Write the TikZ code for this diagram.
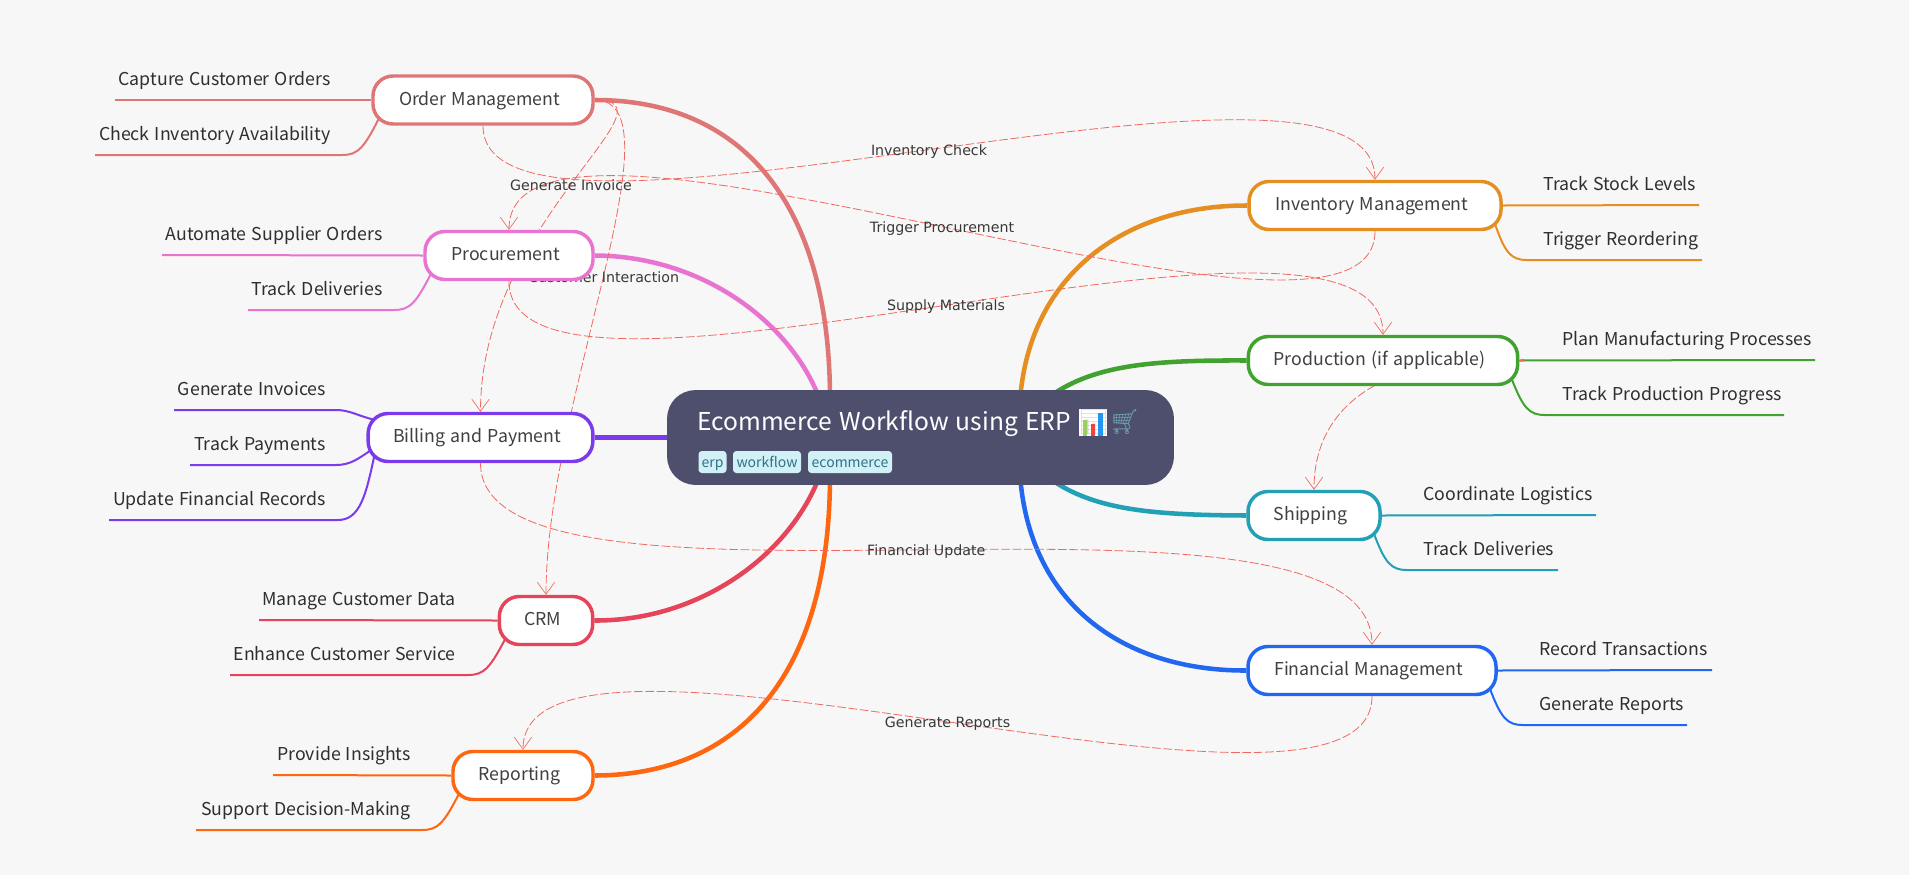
\documentclass[tikz,border=0pt]{standalone}
\usepackage{fontspec}
\usepackage{tikz}
\usetikzlibrary{arrows.meta}
\setmainfont[WordSpace=1.3]{Noto Sans CJK SC}
\newfontfamily\labelfont{DejaVu Sans}
\newfontfamily\emojifont{Noto Emoji}
\definecolor{paper}{HTML}{F7F7F7}
\definecolor{rootcol}{HTML}{4E4F6C}
\definecolor{tagfill}{HTML}{D2F1F6}
\definecolor{tagtext}{HTML}{2F7186}
\definecolor{linkcol}{HTML}{F0685E}
\definecolor{ordcol}{HTML}{DF7676}
\definecolor{procol}{HTML}{E973D1}
\definecolor{bilcol}{HTML}{7C3AED}
\definecolor{crmcol}{HTML}{E5445A}
\definecolor{repcol}{HTML}{FF6610}
\definecolor{invcol}{HTML}{E58F22}
\definecolor{prdcol}{HTML}{41A230}
\definecolor{shpcol}{HTML}{22A0B6}
\definecolor{fincol}{HTML}{2167F0}
\definecolor{bargreen}{HTML}{9CCC65}
\definecolor{barred}{HTML}{F44336}
\definecolor{barblue}{HTML}{2196F3}
\pgfdeclarelayer{sheet}
\pgfdeclarelayer{edges}
\pgfsetlayers{sheet,edges,main}
\tikzset{
	topic/.style={draw=#1,line width=2.6pt,fill=white,rounded corners=15pt,minimum height=36pt,inner sep=0pt,text height=9pt,text depth=1.5pt,text=black!75,font=\fontsize{13.3}{16}\selectfont,execute at end node=\hspace{5pt}},
	leaf/.style={inner sep=0pt,text=black!82,font=\fontsize{13.3}{16}\selectfont},
	tagbox/.style={fill=tagfill,rounded corners=2.5pt,text=tagtext,inner sep=0pt,minimum height=16.5pt,text height=9pt,text depth=.8pt,font=\fontsize{10.5}{12}\selectfont},
	branch/.style={draw=#1,line width=3.4pt},
	twig/.style={draw=#1,line width=1.5pt},
	link/.style={draw=linkcol,line width=.6pt,dash pattern=on 6.5pt off 2pt,-{Straight Barb[length=9pt,width=13pt,line width=.5pt]}},
	linklabel/.style={inner sep=0pt,yshift=-1pt,text=black!78,font=\labelfont\fontsize{10.65}{12}\selectfont}
}
\begin{document}
\begin{tikzpicture}[x=.75pt,y=-.75pt]
\begin{pgfonlayer}{sheet}
\fill [paper] (0,0) rectangle (1909,875);
\end{pgfonlayer}
\useasboundingbox (0,0) rectangle (1909,875);
% root
\node [fill=rootcol,rounded corners=21pt,minimum width=380pt,minimum height=71pt,inner sep=0pt] (root) at (920.5,437.5) {};
\fill [white] (1079,409) rectangle (1107,436);
\node [anchor=west,inner sep=0pt,text=white,font=\fontsize{18.45}{24}\selectfont] (title) at (697,423) {Ecommerce Workflow using ERP {\emojifont\textcolor{black!18}{📊}\textcolor{tagtext!70}{🛒}}};
\fill [bargreen] (1083,420) rectangle (1087,436);
\fill [barred] (1091,424) rectangle (1095,436);
\fill [barblue] (1098,413) rectangle (1103,436);
\node [tagbox,minimum width=21pt] (erp) at (712.5,462) {erp};
\node [tagbox,minimum width=51pt] (workflow) at (767,462) {workflow};
\node [tagbox,minimum width=63pt] (ecommerce) at (850,462) {ecommerce};
% topics
\node [topic=ordcol,minimum width=165pt] (ord) at (483,100) {Order Management};
\node [topic=procol,minimum width=126pt] (pro) at (509,255.5) {Procurement};
\node [topic=bilcol,minimum width=168.5pt] (bil) at (480.5,437.5) {Billing and Payment};
\node [topic=crmcol,minimum width=70pt] (crm) at (546,620.5) {CRM};
\node [topic=repcol,minimum width=105pt] (rep) at (523,775.5) {Reporting};
\node [topic=invcol,minimum width=189pt] (inv) at (1375,205.5) {Inventory Management};
\node [topic=prdcol,minimum width=202pt] (prd) at (1383,360.5) {Production (if applicable)};
\node [topic=shpcol,minimum width=99pt] (shp) at (1314,515.5) {Shipping};
\node [topic=fincol,minimum width=186pt] (fin) at (1372,670.5) {Financial Management};
% leaves
\node [leaf,anchor=base east] (cap) at (331,85) {Capture Customer Orders};
\node [leaf,anchor=base east] (chk) at (331,140) {Check Inventory Availability};
\node [leaf,anchor=base east] (aut) at (383,240) {Automate Supplier Orders};
\node [leaf,anchor=base east] (del) at (383,295) {Track Deliveries};
\node [leaf,anchor=base east] (gin) at (326,395) {Generate Invoices};
\node [leaf,anchor=base east] (pay) at (326,450) {Track Payments};
\node [leaf,anchor=base east] (upd) at (326,505) {Update Financial Records};
\node [leaf,anchor=base east] (man) at (456,605) {Manage Customer Data};
\node [leaf,anchor=base east] (enh) at (456,660) {Enhance Customer Service};
\node [leaf,anchor=base east] (ins) at (411,760) {Provide Insights};
\node [leaf,anchor=base east] (sup) at (411,815) {Support Decision-Making};
\node [leaf,anchor=base west] (stk) at (1543,190) {Track Stock Levels};
\node [leaf,anchor=base west] (reo) at (1543,245) {Trigger Reordering};
\node [leaf,anchor=base west] (pln) at (1562,345) {Plan Manufacturing Processes};
\node [leaf,anchor=base west] (trk) at (1562,400) {Track Production Progress};
\node [leaf,anchor=base west] (log) at (1423,500) {Coordinate Logistics};
\node [leaf,anchor=base west] (shd) at (1423,555) {Track Deliveries};
\node [leaf,anchor=base west] (rec) at (1539,655) {Record Transactions};
\node [leaf,anchor=base west] (grp) at (1539,710) {Generate Reports};
% line ends
\coordinate (capEnd) at (115,100);
\coordinate (chkEnd) at (95,155);
\coordinate (autEnd) at (162,255);
\coordinate (delEnd) at (248,310);
\coordinate (ginEnd) at (174,410);
\coordinate (payEnd) at (190,465);
\coordinate (updEnd) at (109,520);
\coordinate (manEnd) at (259,620);
\coordinate (enhEnd) at (230,675);
\coordinate (insEnd) at (273,775);
\coordinate (supEnd) at (196,830);
\coordinate (stkEnd) at (1699,205);
\coordinate (reoEnd) at (1702,260);
\coordinate (plnEnd) at (1815,360);
\coordinate (trkEnd) at (1784,415);
\coordinate (logEnd) at (1596,515);
\coordinate (shdEnd) at (1558,570);
\coordinate (recEnd) at (1712,670);
\coordinate (grpEnd) at (1687,725);
\coordinate (rootOrd) at (830,400);
\coordinate (rootPro) at (820,400);
\coordinate (rootCrm) at (820,475);
\coordinate (rootRep) at (830,475);
\coordinate (rootInv) at (1020,400);
\coordinate (rootPrd) at (1045,400);
\coordinate (rootShp) at (1045,475);
\coordinate (rootFin) at (1020,475);
\begin{pgfonlayer}{edges}
% branches
\draw [branch=ordcol] (ord.east) .. controls (740,100) and (830,200) .. (rootOrd);
\draw [branch=procol] (pro.east) .. controls (700,256) and (790,320) .. (rootPro);
\draw [branch=bilcol] (bil.east) -- (root.west);
\draw [branch=crmcol] (crm.east) .. controls (700,621) and (790,555) .. (rootCrm);
\draw [branch=repcol] (rep.east) .. controls (740,775) and (830,675) .. (rootRep);
\draw [branch=invcol] (inv.west) .. controls (1130,205) and (1030,270) .. (rootInv);
\draw [branch=prdcol] (prd.west) .. controls (1150,360) and (1090,365) .. (rootPrd);
\draw [branch=shpcol] (shp.west) .. controls (1150,515) and (1090,510) .. (rootShp);
\draw [branch=fincol] (fin.west) .. controls (1130,671) and (1030,610) .. (rootFin);
% twigs
\draw [twig=ordcol] (ord.west) -- (capEnd);
\draw [twig=ordcol] ([shift={(8,-8)}]ord.south west) .. controls (364,148) and (358,155) .. (342,155) -- (chkEnd);
\draw [twig=procol] (pro.west) -- (autEnd);
\draw [twig=procol] ([shift={(8,-8)}]pro.south west) .. controls (416,303) and (410,310) .. (394,310) -- (delEnd);
\draw [twig=bilcol] ([shift={(8,8)}]bil.north west) .. controls (358,416) and (350,410) .. (336,410) -- (ginEnd);
\draw [twig=bilcol] (bil.west) ++(4,13) .. controls (358,459) and (350,465) .. (336,465) -- (payEnd);
\draw [twig=bilcol] ([shift={(8,-8)}]bil.south west) .. controls (366,495) and (360,520) .. (338,520) -- (updEnd);
\draw [twig=crmcol] (crm.west) -- (manEnd);
\draw [twig=crmcol] ([shift={(8,-8)}]crm.south west) .. controls (490,668) and (484,675) .. (468,675) -- (enhEnd);
\draw [twig=repcol] (rep.west) -- (insEnd);
\draw [twig=repcol] ([shift={(8,-8)}]rep.south west) .. controls (444,823) and (438,830) .. (422,830) -- (supEnd);
\draw [twig=invcol] (inv.east) -- (stkEnd);
\draw [twig=invcol] ([shift={(-8,-8)}]inv.south east) .. controls (1505,253) and (1511,260) .. (1527,260) -- (reoEnd);
\draw [twig=prdcol] (prd.east) -- (plnEnd);
\draw [twig=prdcol] ([shift={(-8,-8)}]prd.south east) .. controls (1523,408) and (1529,415) .. (1545,415) -- (trkEnd);
\draw [twig=shpcol] (shp.east) -- (logEnd);
\draw [twig=shpcol] ([shift={(-8,-8)}]shp.south east) .. controls (1385,563) and (1391,570) .. (1407,570) -- (shdEnd);
\draw [twig=fincol] (fin.east) -- (recEnd);
\draw [twig=fincol] ([shift={(-8,-8)}]fin.south east) .. controls (1501,718) and (1507,725) .. (1523,725) -- (grpEnd);
% relations
\draw [link] (ord.south) .. controls +(0,170) and +(0,-178) .. node [linklabel,pos=.5] (lblinv) {Inventory Check} (inv.north);
\draw [link] (inv.south) .. controls +(0,173) and +(0,-183) .. node [linklabel,pos=.5] (lbltrg) {Trigger Procurement} (pro.north);
\draw [link] (pro.south) .. controls +(0,178) and +(0,-185) .. node [linklabel,pos=.5] (lblsup) {Supply Materials} (prd.north);
\draw [link] (ord.east) .. controls +(89,0) and +(0,-191) .. node [linklabel,pos=.5] (lblgin) {Generate Invoice} (bil.north);
\draw [link] (ord.east) .. controls +(89,0) and +(0,-192) .. node [linklabel,pos=.5] (lblcus) {Customer Interaction} (crm.north);
\draw [link] (bil.south) .. controls +(0,184) and +(0,-195) .. node [linklabel,pos=.5] (lblfin) {Financial Update} (fin.north);
\draw [link] (fin.south) .. controls +(0,172) and +(0,-175) .. node [linklabel,pos=.5] (lblrep) {Generate Reports} (rep.north);
\draw [link] (prd.east) .. controls +(42,0) and +(0,-161) .. (shp.north);
\end{pgfonlayer}
\end{tikzpicture}
\end{document}
